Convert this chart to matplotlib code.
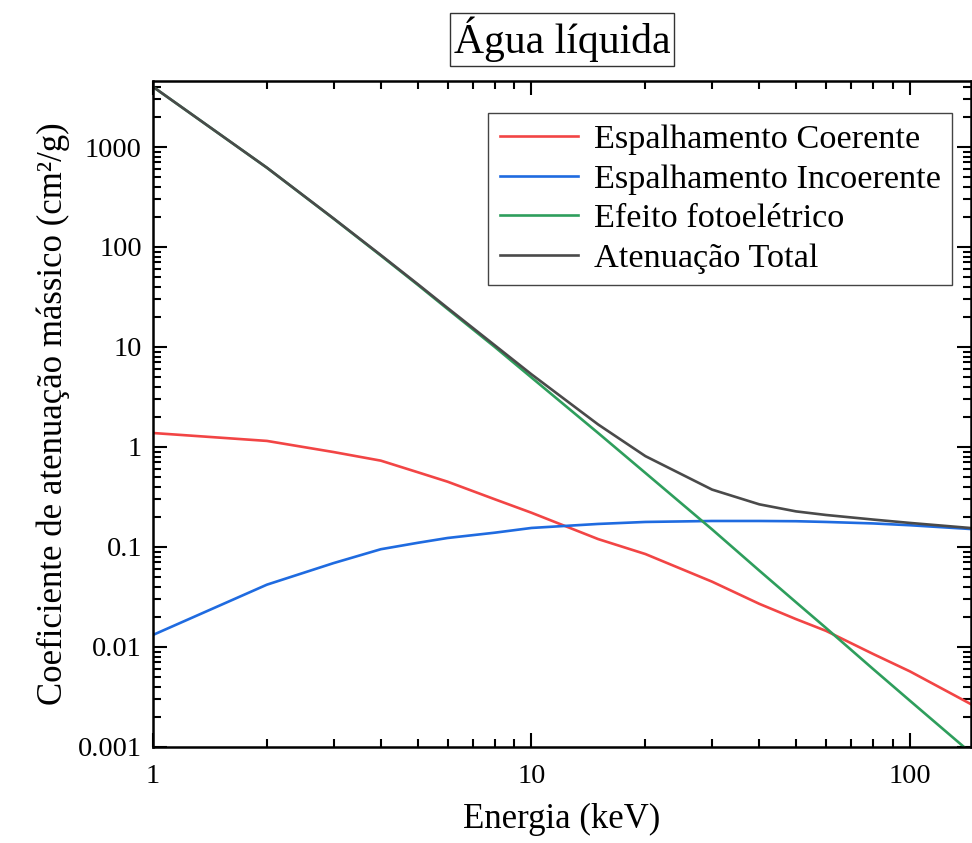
import numpy as np
import matplotlib.pyplot as plt
from matplotlib.ticker import LogLocator, FuncFormatter, NullFormatter

plt.rcParams['font.family'] = ['Liberation Serif', 'DejaVu Serif']

# energias (keV) e coeficientes (cm2/g)
energia = [1, 2, 3, 4, 5, 6, 8, 10, 15, 20, 30, 40, 50, 60, 80, 100, 150]
coerente = [1.38, 1.15, 0.89, 0.73, 0.56, 0.45, 0.30, 0.22, 0.12, 0.085,
            0.045, 0.027, 0.019, 0.0145, 0.0085, 0.0057, 0.0025]
incoerente = [0.0132, 0.042, 0.069, 0.095, 0.11, 0.123, 0.139, 0.155, 0.170, 0.178,
              0.182, 0.182, 0.181, 0.178, 0.172, 0.165, 0.150]
fotoeletrico = [4000, 620, 192, 82, 42, 24, 10, 4.95, 1.38, 0.55,
                0.15, 0.058, 0.028, 0.0155, 0.006, 0.0029, 0.00078]
total = [4001, 621, 193, 83, 42.7, 24.6, 10.4, 5.33, 1.68, 0.81,
         0.375, 0.267, 0.227, 0.209, 0.188, 0.174, 0.153]

nomes = ['Espalhamento Coerente', 'Espalhamento Incoerente',
         'Efeito fotoelétrico', 'Atenuação Total']
cores = ['#F24545', '#1F6BE0', '#2E9E5C', '#4A4A4A']

fig = plt.figure(figsize=(9.72, 8.43), dpi=100)
ax = fig.add_axes([0.1574, 0.1139, 0.8416, 0.790])

for serie, nome, cor in zip([coerente, incoerente, fotoeletrico, total], nomes, cores):
    ax.plot(energia, serie, color=cor, lw=1.9, label=nome)

ax.set_xscale('log')
ax.set_yscale('log')
ax.set_xlim(1, 145)
ax.set_ylim(0.001, 4570)

fmt = FuncFormatter(lambda v, p: '%g' % v)
ax.xaxis.set_major_formatter(fmt)
ax.yaxis.set_major_formatter(fmt)
ax.yaxis.set_major_locator(LogLocator(base=10, numticks=20))
ax.yaxis.set_minor_locator(LogLocator(base=10, subs=np.arange(2, 10), numticks=20))
ax.yaxis.set_minor_formatter(NullFormatter())
ax.xaxis.set_minor_formatter(NullFormatter())

ax.tick_params(which='both', direction='in', top=True, right=True, width=1.5, labelsize=20.5)
ax.tick_params(which='major', length=10)
ax.tick_params(which='minor', length=6)
ax.tick_params(axis='x', pad=12)
ax.tick_params(axis='y', pad=8)
for s in ax.spines.values():
    s.set_linewidth(1.8)

ax.set_xlabel('Energia (keV)', fontsize=25, labelpad=10)
ax.set_ylabel('Coeficiente de atenuação mássico (cm²/g)', fontsize=25, labelpad=6)
ax.set_title('Água líquida', fontsize=30, pad=20,
             bbox=dict(facecolor='white', edgecolor='#333333', lw=1, pad=2.5))

leg = ax.legend(loc='upper right', bbox_to_anchor=(0.977, 0.952), fontsize=24.7,
                frameon=True, fancybox=False, edgecolor='#444444', framealpha=1,
                borderaxespad=0, handlelength=2.3, handletextpad=0.45,
                labelspacing=0.25, borderpad=0.33)
leg.get_frame().set_linewidth(1.0)

plt.savefig('out.png', dpi=100)
